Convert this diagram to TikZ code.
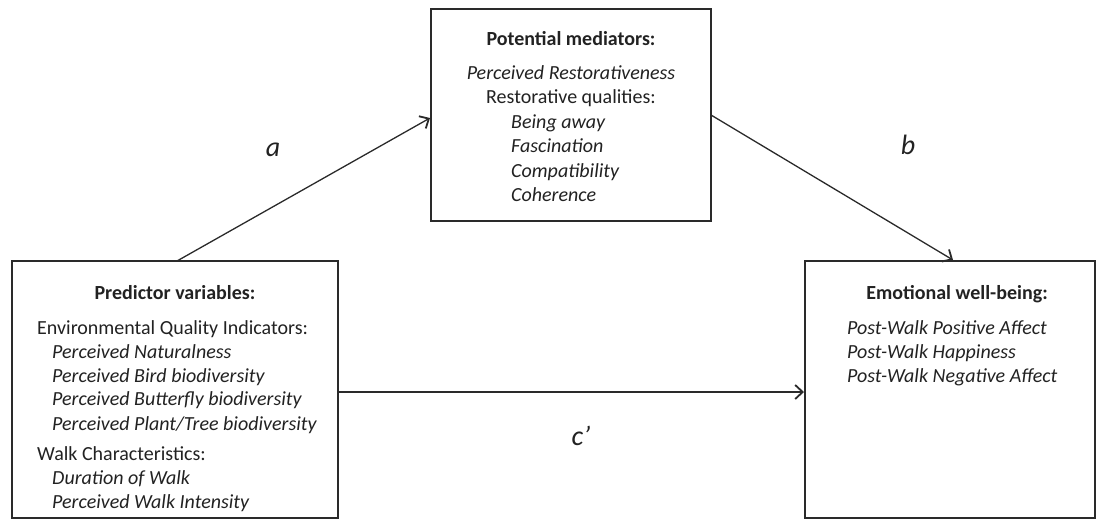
\documentclass[tikz,border=0pt]{standalone}
\usepackage{fontspec}
\setmainfont{Carlito}
\usetikzlibrary{arrows.meta}
\definecolor{ink}{HTML}{222222}
\definecolor{edge}{HTML}{2a2a2a}
\begin{document}
\begin{tikzpicture}[x=1pt,y=-1pt,
  box/.style={draw=edge, line width=1.3pt, inner sep=0pt, fill=white},
  conn/.style={draw=edge, line width=1.3pt, -{Straight Barb[length=7.5pt,width=14pt,line width=1.8pt]}},
  body/.style={inner sep=0pt, text=ink, font=\fontsize{20}{24}\selectfont},
  item/.style={body, anchor=base west},
  head/.style={body, anchor=base, font=\fontsize{20}{24}\selectfont\bfseries},
  ctr/.style={body, anchor=base},
  path label/.style={inner sep=0pt, text=ink, font=\fontsize{28}{32}\selectfont\itshape}]
\useasboundingbox (0,0) rectangle (1099,520);
% boxes
\node[box, minimum width=280pt, minimum height=212pt] (med) at (571,115) {};
\node[box, minimum width=326pt, minimum height=257pt] (pred) at (175,389.5) {};
\node[box, minimum width=290pt, minimum height=257pt] (out) at (950,389.5) {};
% mediator text
\node[head] (medT) at (571,45) {Potential mediators:};
\node[ctr] (med1) at (571,79) {\itshape Perceived Restorativeness};
\node[ctr] (med2) at (571,103) {Restorative qualities:};
\node[item] (med3) at (511,128) {\itshape Being away};
\node[item] (med4) at (511,152) {\itshape Fascination};
\node[item] (med5) at (511,177) {\itshape Compatibility};
\node[item] (med6) at (511,201) {\itshape Coherence};
% predictor text
\node[head] (predT) at (175,299) {Predictor variables:};
\node[item] (p1) at (37,334) {Environmental Quality Indicators:};
\node[item] (p2) at (52,358) {\itshape Perceived Naturalness};
\node[item] (p3) at (52,382) {\itshape Perceived Bird biodiversity};
\node[item] (p4) at (52,405) {\itshape Perceived Butterfly biodiversity};
\node[item] (p5) at (52,430) {\itshape Perceived Plant/Tree biodiversity};
\node[item] (p6) at (37,460) {Walk Characteristics:};
\node[item] (p7) at (52,484) {\itshape Duration of Walk};
\node[item] (p8) at (52,508) {\itshape Perceived Walk Intensity};
% outcome text
\node[head] (outT) at (957,299) {Emotional well-being:};
\node[item] (o1) at (847,334) {\itshape Post-Walk Positive Affect};
\node[item] (o2) at (847,358) {\itshape Post-Walk Happiness};
\node[item] (o3) at (847,382) {\itshape Post-Walk Negative Affect};
% connector end points
\coordinate (aS) at (177,261);
\coordinate (aE) at (430,118);
\coordinate (bS) at (711,115);
\coordinate (bE) at (953,260);
\coordinate (cS) at (338,392);
\coordinate (cE) at (804,392);
\draw[conn] (aS) -- (aE);
\draw[conn] (bS) -- (bE);
\draw[conn] (cS) -- (cE);
% path labels
\node[path label] (la) at (273,150) {a};
\node[path label] (lb) at (908,145) {b};
\node[path label] (lc) at (581,436) {c’};
\end{tikzpicture}
\end{document}
